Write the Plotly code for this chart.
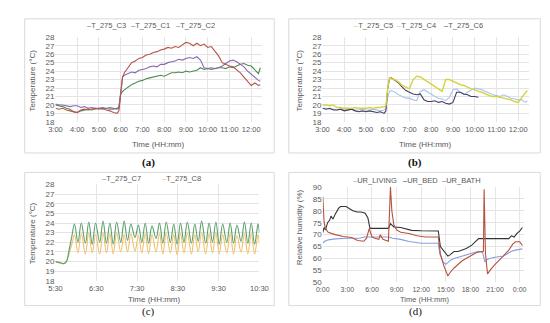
import plotly.graph_objects as go

# ---------------- data ----------------
ab_times = ["3:00","3:10","3:20","3:30","3:40","3:50","4:00","4:10","4:20","4:30","4:40","4:50",
            "5:00","5:10","5:20","5:30","5:40","5:50","5:55","6:00","6:05","6:10","6:20","6:30",
            "6:40","6:50","7:00","7:10","7:20","7:30","7:40","7:50","8:00","8:10","8:20","8:30",
            "8:40","8:50","9:00","9:10","9:20","9:30","9:40","9:50","10:00","10:10","10:20","10:30",
            "10:40","10:50","11:00","11:10","11:20","11:30","11:40","11:50","12:00","12:10","12:20","12:25"]

t275_c3 = [19.6,19.5,19.6,19.4,19.3,19.2,19.1,19.4,19.5,19.4,19.5,19.6,19.5,19.6,19.4,19.3,19.1,19.0,19.3,21.0,
           23.3,23.8,24.4,25.0,25.2,25.5,25.6,25.9,26.0,26.2,26.3,26.5,26.6,26.8,26.7,26.9,26.8,27.1,27.4,27.3,
           27.0,27.3,27.0,27.2,26.8,26.9,26.4,25.8,25.0,24.8,24.6,24.5,24.2,23.8,23.3,22.8,22.3,22.6,22.3,22.4]
t275_c1 = [20.0,19.9,19.8,19.6,19.5,19.2,19.1,19.3,19.4,19.5,19.4,19.5,19.6,19.5,19.6,19.7,19.6,19.5,19.6,21.3,
           21.6,21.8,22.1,22.4,22.6,22.8,22.9,23.1,23.2,23.3,23.4,23.5,23.4,23.6,23.8,23.8,23.9,23.8,24.0,23.9,
           24.0,24.1,24.4,24.2,24.3,24.2,24.3,24.4,24.4,24.3,24.5,24.4,24.6,24.8,24.9,24.7,24.6,24.1,23.7,24.4]
t275_c2 = [20.1,20.0,20.0,19.9,19.8,19.9,19.9,19.7,19.8,19.6,19.7,19.6,19.6,19.7,19.6,19.5,19.5,19.6,19.8,21.5,
           23.3,23.5,23.7,23.9,23.8,24.1,24.2,24.3,24.5,24.6,24.5,24.8,24.8,25.0,25.1,25.2,25.4,25.3,25.5,25.6,
           25.5,25.7,25.3,24.4,24.3,24.4,24.3,24.4,24.6,24.9,25.2,25.3,25.1,24.8,24.5,24.0,23.6,23.2,22.9,22.8]

t275_c5 = [20.0,20.0,19.9,20.0,19.7,19.7,19.6,19.6,19.6,19.7,19.6,19.6,19.6,19.7,19.6,19.7,19.7,19.8,19.9,22.0,
           23.2,23.1,23.0,22.7,22.3,22.1,21.9,23.0,23.4,23.3,23.0,22.7,22.5,22.2,21.9,21.6,23.0,23.0,22.8,22.6,
           22.4,22.3,22.1,21.9,21.8,21.6,21.5,21.3,21.1,21.0,21.0,20.9,20.8,20.7,20.6,20.4,20.3,20.9,21.4,21.7]
t275_c4 = [19.6,19.6,19.5,19.5,19.4,19.5,19.5,19.4,19.5,19.4,19.4,19.5,19.4,19.4,19.5,19.4,19.3,19.4,19.6,21.0,
           21.6,21.7,21.5,21.2,21.0,20.8,20.8,20.6,20.5,21.6,21.8,21.5,21.3,21.0,20.8,20.7,20.5,20.9,21.8,21.9,
           21.5,21.2,21.5,21.8,22.0,21.9,21.8,21.6,21.4,21.2,21.1,21.0,21.2,21.0,20.8,20.7,20.6,20.6,20.3,20.5]
t275_c6 = [19.6,19.5,19.6,19.4,19.4,19.5,19.3,19.4,19.5,19.3,19.2,19.3,19.2,19.3,19.2,19.1,19.2,19.0,19.3,22.0,
           23.1,23.2,22.9,22.6,22.1,21.7,21.5,21.3,21.2,21.3,20.6,20.4,20.4,20.5,20.3,20.4,20.2,20.1,20.3,21.5,
           21.5,21.3,21.2,21.0,21.0,20.9,None,None,None,None,None,None,None,None,None,None,None,None,None,None]

c_times = ["5:30","5:36","5:42","5:46","5:50","5:54","5:58",
           "6:03","6:08","6:14","6:19","6:24","6:29","6:35","6:40","6:45","6:50","6:55","7:00",
           "7:06","7:11","7:16","7:21","7:27","7:32","7:37","7:42","7:47","7:52","7:58","8:03",
           "8:08","8:13","8:19","8:24","8:29","8:34","8:39","8:44","8:50","8:55","9:00","9:05",
           "9:11","9:16","9:21","9:26","9:31","9:36","9:42","9:47","9:52","9:57","10:03","10:08",
           "10:13","10:18","10:23","10:28","10:30"]
t275_c7 = [20.0,19.9,19.8,20.0,21.2,22.6,23.9,
           22.0,24.0,21.9,24.1,21.8,24.0,22.0,24.2,21.9,24.0,21.8,24.1,
           22.0,24.2,22.2,23.9,22.5,23.8,22.0,24.0,21.9,23.7,22.4,24.0,
           21.9,24.1,22.0,23.9,21.8,24.0,22.0,24.1,21.9,23.9,22.1,24.2,
           21.9,24.0,22.0,24.1,21.8,23.9,22.0,24.0,21.9,23.8,22.1,24.1,
           21.9,24.0,21.8,23.9,23.0]
t275_c8 = [20.0,19.9,19.8,20.0,20.8,21.8,22.8,
           20.9,22.9,20.8,23.0,20.9,22.8,20.8,23.0,20.9,22.9,20.8,23.0,
           21.0,22.8,21.0,22.9,21.1,22.7,20.9,22.9,20.8,22.8,21.0,22.9,
           20.8,23.0,20.9,22.8,20.7,22.9,20.9,23.0,20.8,22.8,21.0,23.0,
           20.8,22.9,20.9,23.0,20.8,22.8,20.9,22.9,20.8,22.7,21.0,22.9,
           20.8,22.9,20.8,22.8,22.0]

living_t = ["0:00","0:15","0:40","1:30","3:00","4:30","5:00","7:00","8:00","8:30","9:30","10:30","11:30",
            "12:00","13:00","14:05","14:15","14:40","15:00","15:20","15:40","16:00","17:00","18:00","19:00",
            "19:30","19:45","20:00","20:20","21:00","22:00","22:30","23:00","23:30","24:20"]
ur_living = [66.4,67.2,67.8,68.2,68.5,68.5,69.0,69.0,69.0,68.5,68.0,67.1,66.6,
             66.4,66.4,66.4,62.0,58.5,57.5,58.5,59.5,60.0,61.0,62.0,63.0,
             62.5,58.5,59.5,60.0,60.5,61.0,62.0,63.0,63.5,64.0]

bed_t = ["0:00","0:10","0:20","0:35","0:50","1:00","1:15","1:30","1:55","2:10","2:50","3:20","3:40","4:10",
         "4:40","5:10","5:30","5:45","6:30","7:30","8:00","8:15","8:40","9:30","10:50","12:00","13:00","14:05",
         "14:20","14:45","15:15","15:30","16:00","16:30","17:30","18:10","18:40","19:00","20:00","21:00","22:00",
         "22:40","23:00","23:20","23:40","24:00","24:20"]
ur_bed = [70.8,73.0,72.0,75.0,76.0,77.8,76.5,78.5,81.0,81.8,81.8,80.5,80.0,79.5,
          79.5,79.0,77.0,72.6,72.6,72.6,72.6,74.6,73.2,73.0,71.8,71.6,71.6,71.5,
          65.0,63.0,61.0,61.5,62.9,62.9,64.2,65.6,67.0,68.3,68.3,68.3,68.3,
          68.3,69.5,69.0,70.5,71.5,73.0]

bath_t = ["0:00","0:10","0:20","0:40","1:30","2:30","3:30","4:15","5:00","5:20","5:40","6:00","6:20","6:50",
          "7:00","7:20","8:00","8:15","8:25","8:40","9:00","9:30","10:30","11:30","12:30","13:30","14:05",
          "14:20","14:45","15:15","15:30","16:00","17:00","18:00","18:45","19:35","19:40","19:50","20:05",
          "20:30","21:00","22:00","22:40","23:10","23:30","24:00","24:20"]
ur_bath = [86.0,75.0,72.5,71.0,70.0,69.2,68.8,67.5,67.2,68.5,72.5,69.0,68.5,68.0,
           70.0,68.0,67.2,90.0,80.0,74.0,72.0,71.0,70.5,69.5,69.0,69.0,69.0,
           62.0,57.0,52.6,54.0,56.0,59.0,61.0,62.5,63.0,89.0,62.0,53.5,
           55.5,57.5,61.0,63.5,66.0,67.0,67.0,65.5]


def hrs(s):
    h, m = s.split(":")
    return int(h) + int(m) / 60.0


W, H = 550, 323
FONT = "Liberation Sans"
TXT = "#595959"
GRID = "#e4e4e4"

fig = go.Figure()

def add(xs, ys, name, color, ax, width=1.1, shape="linear"):
    fig.add_trace(go.Scatter(x=[hrs(t) for t in xs], y=ys, mode="lines", name=name,
                             line=dict(color=color, width=width, shape=shape),
                             connectgaps=False, showlegend=False,
                             xaxis="x" + ax, yaxis="y" + ax))

C3, C1, C2 = "#b5544a", "#4f8a4f", "#8a68b0"
C5, C4, C6 = "#d4d43a", "#a9c4ec", "#4a3a66"
C7, C8 = "#5b9e6b", "#f0c06a"
LIV, BED, BATH = "#8c9be0", "#333333", "#b5523b"

add(ab_times, t275_c1, "T_275_C1", C1, "")
add(ab_times, t275_c2, "T_275_C2", C2, "")
add(ab_times, t275_c3, "T_275_C3", C3, "")
add(ab_times, t275_c4, "T_275_C4", C4, "2")
add(ab_times, t275_c6, "T_275_C6", C6, "2")
add(ab_times, t275_c5, "T_275_C5", C5, "2", width=1.4)
add(c_times, t275_c8, "T_275_C8", C8, "3", shape="spline")
add(c_times, t275_c7, "T_275_C7", C7, "3", shape="spline")
add(living_t, ur_living, "UR_LIVING", LIV, "4")
add(bed_t, ur_bed, "UR_BED", BED, "4")
add(bath_t, ur_bath, "UR_BATH", BATH, "4")

def xd(a, b):
    return [a / W, b / W]

def yd(top, bottom):
    return [1 - bottom / H, 1 - top / H]

def xax(size):
    return dict(showgrid=True, gridcolor=GRID, gridwidth=1, zeroline=False, showline=False,
                ticks="", tickfont=dict(family=FONT, size=size, color=TXT), tickmode="array",
                tickangle=0, ticklabelstandoff=2)

common_y = dict(showgrid=True, gridcolor=GRID, gridwidth=1, zeroline=False, showline=False,
                ticks="", tickfont=dict(family=FONT, size=8, color=TXT), tickmode="linear")

ab_tv = list(range(3, 13))
ab_tt = [f"{h}:00" for h in ab_tv]
c_tv = [5.5, 6.5, 7.5, 8.5, 9.5, 10.5]
c_tt = ["5:30", "6:30", "7:30", "8:30", "9:30", "10:30"]
d_tv = [0, 3, 6, 9, 12, 15, 18, 21, 24]
d_tt = ["0:00", "3:00", "6:00", "9:00", "12:00", "15:00", "18:00", "21:00", "0:00"]

fig.update_layout(
    width=W, height=H, margin=dict(l=0, r=0, t=0, b=0),
    paper_bgcolor="white", plot_bgcolor="white", showlegend=False,
    xaxis=dict(domain=xd(41.7, 254.5), range=[3, 12.5], tickvals=ab_tv, ticktext=ab_tt, anchor="y", **xax(7.5)),
    yaxis=dict(domain=yd(26, 113), range=[18, 28], dtick=1, tick0=18, anchor="x", **common_y),
    xaxis2=dict(domain=xd(316.7, 529.5), range=[3, 12.5], tickvals=ab_tv, ticktext=ab_tt, anchor="y2", **xax(7.5)),
    yaxis2=dict(domain=yd(26, 113), range=[18, 28], dtick=1, tick0=18, anchor="x2", **common_y),
    xaxis3=dict(domain=xd(41.7, 251.7), range=[5.5, 10.5], tickvals=c_tv, ticktext=c_tt, anchor="y3", **xax(7.5)),
    yaxis3=dict(domain=yd(177.3, 276.7), range=[18, 28], dtick=1, tick0=18, anchor="x3", **common_y),
    xaxis4=dict(domain=xd(317, 524), range=[0, 24.5], tickvals=d_tv, ticktext=d_tt, anchor="y4", **xax(7)),
    yaxis4=dict(domain=yd(180, 278), range=[50, 90], dtick=5, tick0=50, anchor="x4", **common_y),
)

# panel frames
for (x0, y0, x1, y1) in [(10, 7, 267, 145), (282, 7, 541, 145), (10, 165, 267, 302), (282, 165, 541, 302)]:
    fig.add_shape(type="rect", xref="paper", yref="paper",
                  x0=x0 / W, x1=x1 / W, y0=1 - y1 / H, y1=1 - y0 / H,
                  line=dict(color="#d9d9d9", width=1), fillcolor="rgba(0,0,0,0)", layer="below")

def ann(text, x, y, size=8, color=TXT, family=FONT, xanchor="center", angle=0):
    fig.add_annotation(text=text, x=x / W, y=1 - y / H, xref="paper", yref="paper",
                       showarrow=False, xanchor=xanchor, yanchor="middle", textangle=angle,
                       font=dict(family=family, size=size, color=color))

def leg(name, color, x, y):
    ann(f"<span style='color:{color}'>–</span>{name}", x, y, size=7.5)

leg("T_275_C3", C3, 94, 14); leg("T_275_C1", C1, 140, 14); leg("T_275_C2", C2, 186, 14)
leg("T_275_C5", C5, 369, 14); leg("T_275_C4", C4, 414, 14); leg("T_275_C6", C6, 462, 14)
leg("T_275_C7", C7, 110, 171); leg("T_275_C8", C8, 172, 171)
leg("UR_LIVING", LIV, 371, 173); leg("UR_BED", BED, 418, 173); leg("UR_BATH", BATH, 460, 173)

ann("Temperature (°C)", 18, 70, angle=-90)
ann("Temperature (°C)", 293, 70, angle=-90)
ann("Temperature (°C)", 18, 227, angle=-90)
ann("Relative humidity (%)", 293, 221, angle=-90)
ann("Time (HH:mm)", 147, 136)
ann("Time (HH:mm)", 422, 136)
ann("Time (HH:mm)", 143, 296)
ann("Time (HH:mm)", 422, 296, size=7.5)

ann("<b>(a)</b>", 137, 155, size=11, color="#111111", family="Liberation Serif")
ann("<b>(b)</b>", 412, 155, size=11, color="#111111", family="Liberation Serif")
ann("(c)", 137, 308, size=11, color="#111111", family="Liberation Serif")
ann("(d)", 412, 308, size=11, color="#111111", family="Liberation Serif")

fig.write_html("out.html")
